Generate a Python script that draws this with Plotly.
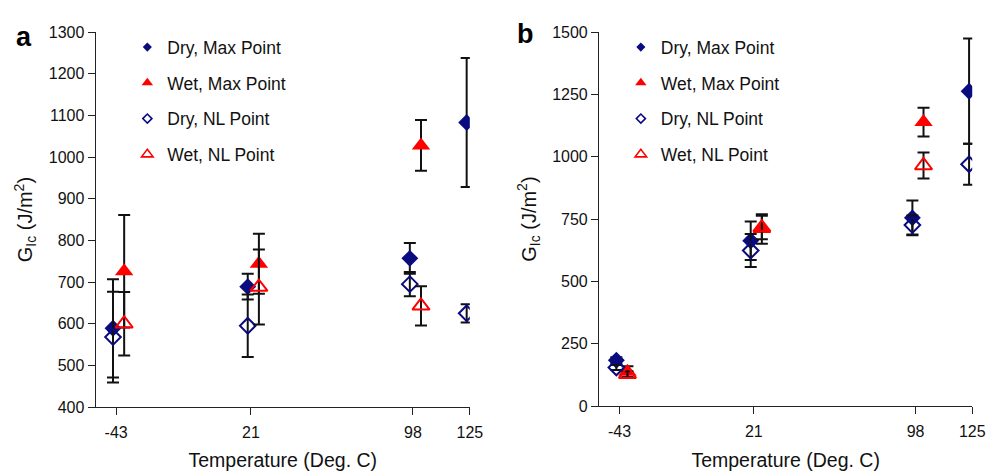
import plotly.graph_objects as go

# Test temperatures (deg C)
temps = [-43, 21, 98, 125]
temps_wet = [-43, 21, 98]
tick_vals = [-43, 21, 98, 125]
tick_text = ["-43", "21", "98", "125"]

# Panel a: G_Ic (J/m^2)
a_dry_max = [589, 689, 757, 1083]
a_dry_max_err = [118, 31, 37, 155]
a_wet_max = [726, 744, 1028]
a_wet_max_err = [135, 72, 61]
a_dry_nl = [568, 595, 695, 625]
a_dry_nl_err = [109, 75, 29, 22]
a_wet_nl = [600, 688, 643]
a_wet_nl_err = [76, 90, 47]

# Panel b: G_Ic (J/m^2)
b_dry_max = [184, 663, 755, 1263]
b_dry_max_err = [12, 77, 70, 211]
b_wet_max = [138, 710, 1139]
b_wet_max_err = [22, 59, 58]
b_dry_nl = [155, 624, 726, 970]
b_dry_nl_err = [10, 66, 38, 82]
b_wet_nl = [128, 716, 965]
b_wet_nl_err = [12, 47, 52]

names = ["Dry, Max Point", "Wet, Max Point", "Dry, NL Point", "Wet, NL Point"]

NAVY = "#0b0b80"
RED = "#ff0000"
FONT = "Liberation Sans, Arial, sans-serif"

# horizontal nudges so dry / wet markers at one temperature do not overlap
DRY_SHIFT = -1.5
WET_SHIFT = 3.8

styles = [
    dict(symbol="diamond", color=NAVY, size=13, line=dict(width=0)),
    dict(symbol="triangle-up", color=RED, size=16, line=dict(width=0)),
    dict(symbol="diamond-open", color=NAVY, size=12, line=dict(width=2, color=NAVY)),
    dict(symbol="triangle-up-open", color=RED, size=15, line=dict(width=2, color=RED)),
]
legend_styles = [
    dict(symbol="diamond", color=NAVY, size=7, line=dict(width=0)),
    dict(symbol="triangle-up", color=RED, size=10, line=dict(width=0)),
    dict(symbol="diamond-open", color=NAVY, size=7, line=dict(width=1.6, color=NAVY)),
    dict(symbol="triangle-up-open", color=RED, size=10, line=dict(width=1.6, color=RED)),
]

fig = go.Figure()


def add_panel(series, xa, ya, legend_name):
    xs = [
        [t + DRY_SHIFT for t in temps],
        [t + WET_SHIFT for t in temps_wet],
        [t + DRY_SHIFT for t in temps],
        [t + WET_SHIFT for t in temps_wet],
    ]
    for i, (vals, errs) in enumerate(series):
        fig.add_trace(go.Scatter(
            x=xs[i], y=vals, mode="markers", xaxis=xa, yaxis=ya,
            marker=styles[i], showlegend=False, hoverinfo="x+y",
            error_y=dict(type="data", array=errs, visible=True,
                         color="#111111", thickness=2, width=6),
        ))
    # legend entries with smaller symbols
    for i in range(4):
        fig.add_trace(go.Scatter(
            x=[None], y=[None], mode="markers", xaxis=xa, yaxis=ya,
            marker=legend_styles[i], name=names[i], legend=legend_name,
            legendgroup=f"{legend_name}{i}", showlegend=True,
        ))


add_panel([(a_dry_max, a_dry_max_err), (a_wet_max, a_wet_max_err),
           (a_dry_nl, a_dry_nl_err), (a_wet_nl, a_wet_nl_err)], "x", "y", "legend")
add_panel([(b_dry_max, b_dry_max_err), (b_wet_max, b_wet_max_err),
           (b_dry_nl, b_dry_nl_err), (b_wet_nl, b_wet_nl_err)], "x2", "y2", "legend2")

W, H = 1002, 471

xaxis_common = dict(
    range=[-52.7, 125], tickvals=tick_vals, ticktext=tick_text,
    showline=True, linecolor="#222222", linewidth=1.3, ticks="outside",
    ticklen=7, tickwidth=1.3, tickcolor="#222222", showgrid=False, zeroline=False,
    ticklabelstandoff=4,
    tickfont=dict(family=FONT, size=16, color="#111111"),
    title=dict(text="Temperature (Deg. C)", font=dict(family=FONT, size=19.5, color="#111111"),
               standoff=15),
)
yaxis_common = dict(
    showline=True, linecolor="#222222", linewidth=1.3, ticks="outside",
    ticklen=7, tickwidth=1.3, tickcolor="#222222", showgrid=False, zeroline=False,
    tickfont=dict(family=FONT, size=16, color="#111111"),
    title=dict(text="G<sub>Ic</sub> (J/m<sup>2</sup>)",
               font=dict(family=FONT, size=20, color="#111111"), standoff=10),
)

legend_common = dict(
    font=dict(family=FONT, size=17.5, color="#111111"), bgcolor="rgba(0,0,0,0)",
    borderwidth=0, tracegroupgap=10, xanchor="left", yanchor="top",
    traceorder="grouped",
)

fig.update_layout(
    width=W, height=H, margin=dict(l=0, r=0, t=0, b=0),
    paper_bgcolor="white", plot_bgcolor="white",
    xaxis=dict(domain=[97 / W, 476 / W], anchor="y", **xaxis_common),
    yaxis=dict(domain=[1 - 414 / H, 1 - 25 / H], anchor="x", range=[400, 1300],
               dtick=100, **yaxis_common),
    xaxis2=dict(domain=[607 / W, 985 / W], anchor="y2", **xaxis_common),
    yaxis2=dict(domain=[1 - 413 / H, 1 - 25 / H], anchor="x2", range=[0, 1500],
                dtick=250, **yaxis_common),
    legend=dict(x=129 / W, y=1 - 22 / H, **legend_common),
    legend2=dict(x=629 / W, y=1 - 22 / H, **legend_common),
    annotations=[
        dict(text="<b>a</b>", x=14 / W, y=1 - 12 / H, xref="paper", yref="paper",
             xanchor="left", yanchor="top", showarrow=False,
             font=dict(family=FONT, size=27, color="#000000")),
        dict(text="<b>b</b>", x=522 / W, y=1 - 9 / H, xref="paper", yref="paper",
             xanchor="left", yanchor="top", showarrow=False,
             font=dict(family=FONT, size=27, color="#000000")),
    ],
    hovermode="closest",
)

fig.write_html("out.html")
